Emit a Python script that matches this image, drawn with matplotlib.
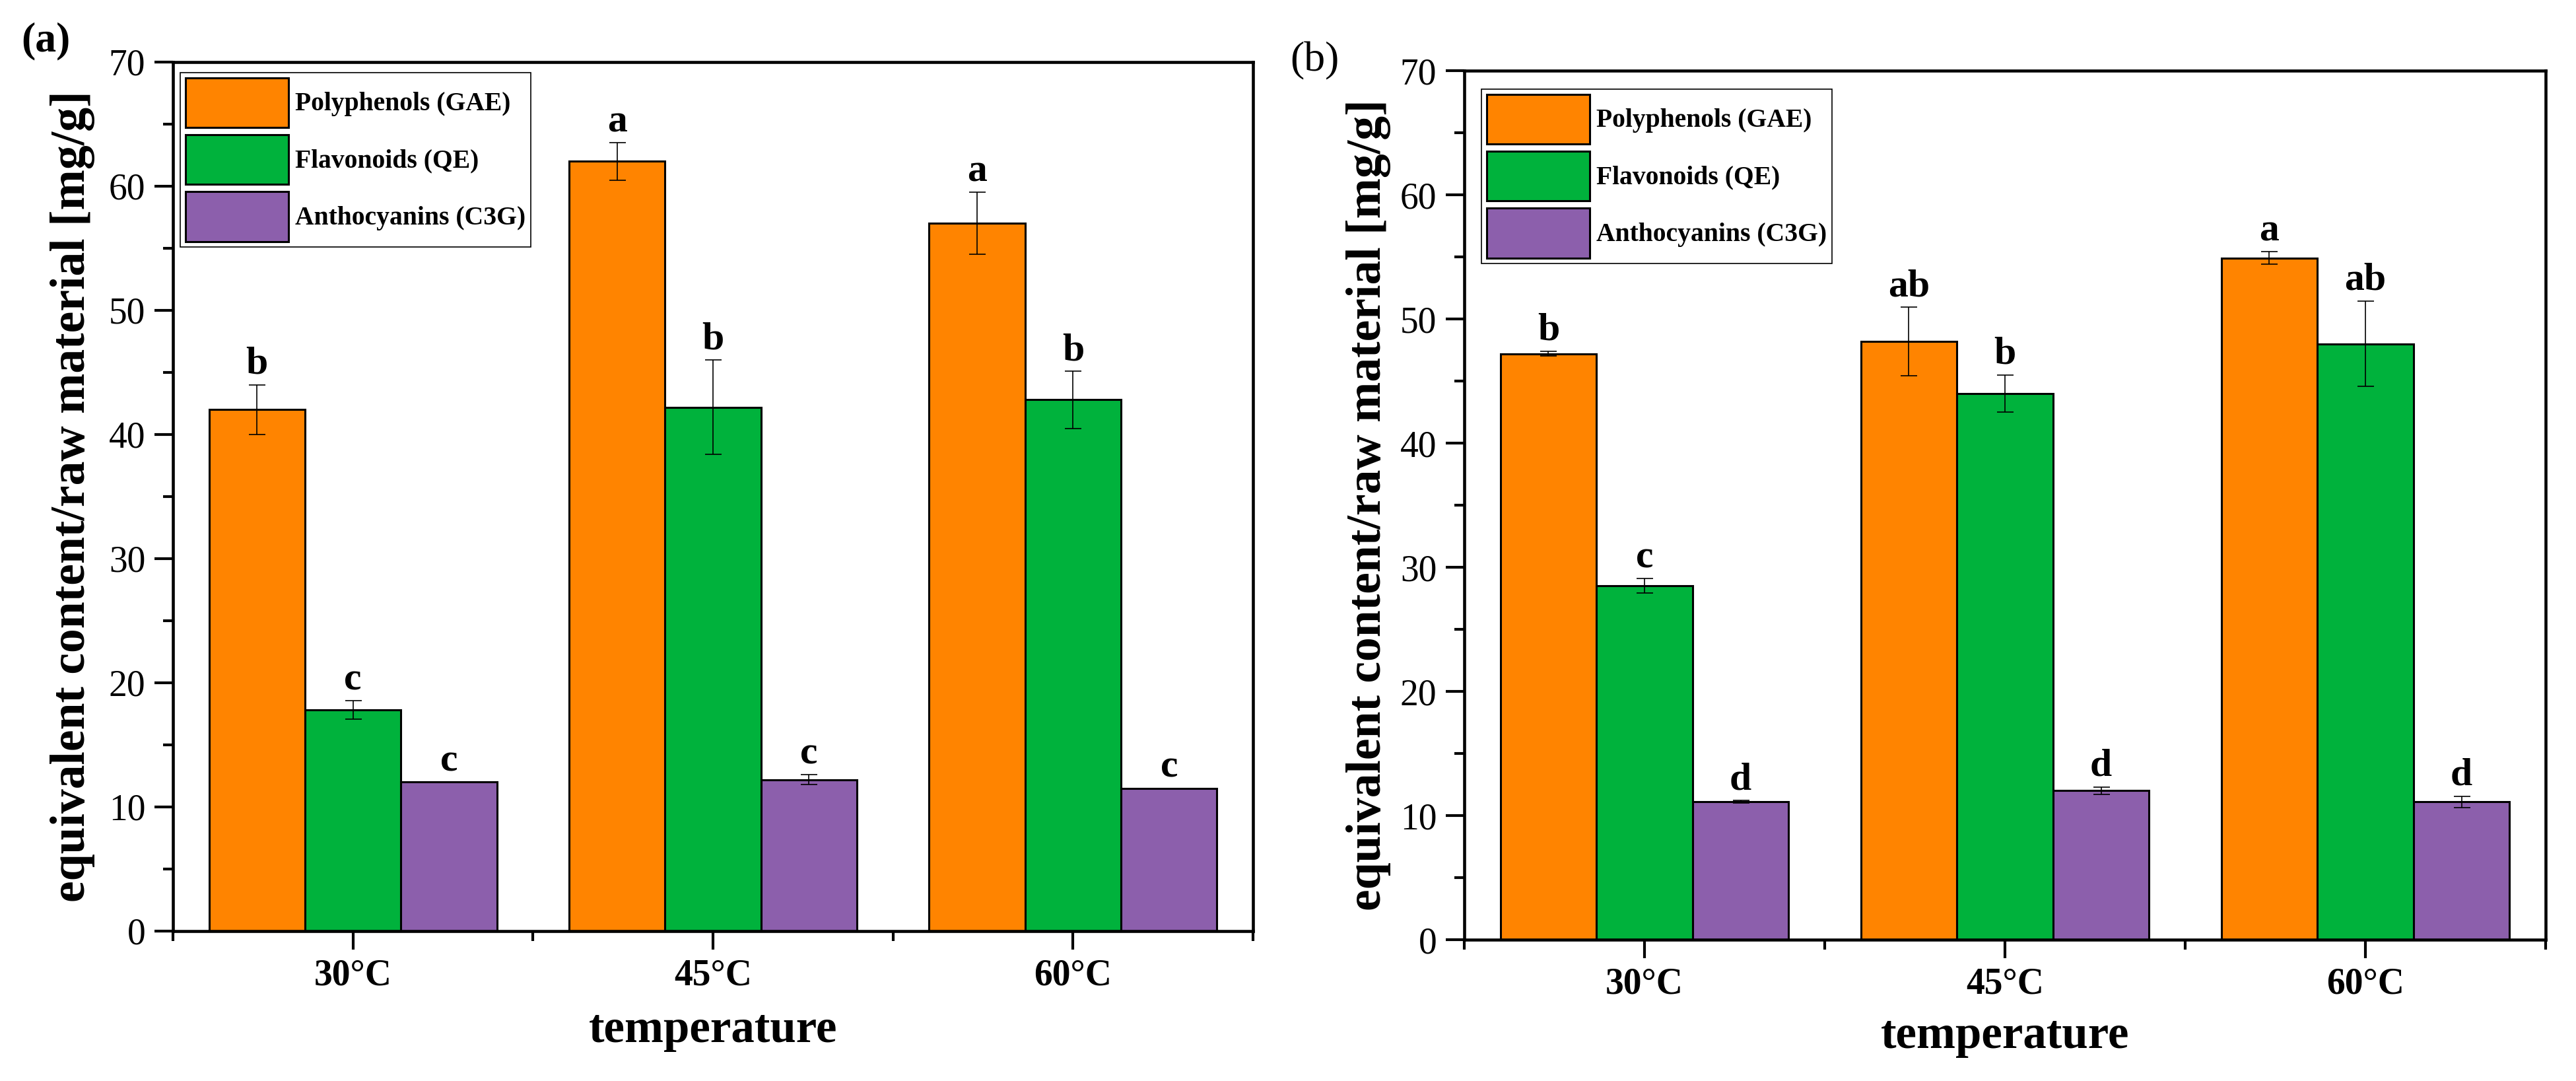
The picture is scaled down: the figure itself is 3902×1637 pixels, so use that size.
import matplotlib
matplotlib.use("Agg")
import matplotlib.pyplot as plt
from matplotlib.ticker import MultipleLocator, FixedLocator
import numpy as np

plt.rcParams['font.family'] = ['Liberation Serif', 'DejaVu Serif']

temperatures = ["30°C", "45°C", "60°C"]
series = ["Polyphenols (GAE)", "Flavonoids (QE)", "Anthocyanins (C3G)"]
colors = ["#FF8400", "#00B23C", "#8C5FAC"]

# Panel (a)
a_poly = [42.0, 62.0, 57.0]
a_poly_err = [2.0, 1.5, 2.5]
a_flav = [17.8, 42.2, 42.8]
a_flav_err = [0.75, 3.8, 2.3]
a_anth = [12.0, 12.2, 11.5]
a_anth_err = [0.0, 0.4, 0.0]
a_letters = [["b", "a", "a"], ["c", "b", "b"], ["c", "c", "c"]]

# Panel (b)
b_poly = [47.2, 48.2, 54.9]
b_poly_err = [0.2, 2.75, 0.5]
b_flav = [28.5, 44.0, 48.0]
b_flav_err = [0.6, 1.5, 3.45]
b_anth = [11.1, 12.0, 11.1]
b_anth_err = [0.1, 0.3, 0.45]
b_letters = [["b", "ab", "a"], ["c", "b", "ab"], ["d", "d", "d"]]

W, H = 3902, 1637
fig = plt.figure(figsize=(W / 100, H / 100), dpi=100)

panels = [
    dict(rect=[262 / W, 1 - 1410 / H, 1636 / W, 1316 / H],
         vals=[a_poly, a_flav, a_anth], errs=[a_poly_err, a_flav_err, a_anth_err],
         letters=a_letters, tag="(a)", tagpos=(69 / W, 1 - 62 / H), tagweight="bold",
         leg=(0.0067, 0.988), ylab_x=-0.072, xlab_y=-0.090),
    dict(rect=[2218 / W, 1 - 1423 / H, 1638 / W, 1316 / H],
         vals=[b_poly, b_flav, b_anth], errs=[b_poly_err, b_flav_err, b_anth_err],
         letters=b_letters, tag="(b)", tagpos=(1991 / W, 1 - 92 / H), tagweight="normal",
         leg=(0.016, 0.979), ylab_x=-0.068, xlab_y=-0.087),
]

x = np.arange(1, len(temperatures) + 1)
bw = 0.8 / 3

for p in panels:
    ax = fig.add_axes(p["rect"])
    for i, (vals, errs, col, name) in enumerate(zip(p["vals"], p["errs"], colors, series)):
        xpos = x + (i - 1) * bw
        ax.bar(xpos, vals, width=bw, color=col, edgecolor="black", linewidth=2.2,
               label=name, zorder=2)
        ax.errorbar(xpos, vals, yerr=errs, fmt="none", ecolor="black",
                    elinewidth=1.2, capsize=9, capthick=1.2, zorder=3)
        for xx, v, e, lt in zip(xpos, vals, errs, p["letters"][i]):
            ax.text(xx, v + e + 0.9, lt, ha="center", va="baseline",
                    fontsize=43, fontweight="bold")
    ax.set_xlim(0.5, 3.5)
    ax.set_ylim(0, 70)
    ax.set_xticks(x)
    ax.set_xticklabels(temperatures, fontweight="bold")
    ax.xaxis.set_minor_locator(FixedLocator([0.5, 1.5, 2.5, 3.5]))
    ax.yaxis.set_major_locator(MultipleLocator(10))
    ax.yaxis.set_minor_locator(MultipleLocator(5))
    ax.tick_params(axis="both", which="major", direction="out", length=20, width=3,
                   labelsize=40, pad=10)
    ax.tick_params(axis="both", which="minor", direction="out", length=11, width=3)
    ax.tick_params(top=False, right=False, which="both")
    for s in ax.spines.values():
        s.set_linewidth(3.3)
    ax.set_ylabel("equivalent content/raw material [mg/g]", fontsize=53, fontweight="bold")
    ax.yaxis.set_label_coords(p["ylab_x"], 0.5)
    ax.set_xlabel("temperature", fontsize=51, fontweight="bold")
    ax.xaxis.set_label_coords(0.5, p["xlab_y"])
    leg = ax.legend(loc="upper left", bbox_to_anchor=p["leg"], borderaxespad=0,
                    prop=dict(size=28.5, weight="bold"), handlelength=3.94,
                    handleheight=2.55, labelspacing=0.28, borderpad=0.2,
                    handletextpad=0.25, fancybox=False, framealpha=1,
                    edgecolor="black")
    leg.get_frame().set_linewidth(1.2)
    fig.text(p["tagpos"][0], p["tagpos"][1], p["tag"], ha="center", va="center",
             fontsize=46, fontweight=p["tagweight"])

fig.savefig("out.png", dpi=100)
